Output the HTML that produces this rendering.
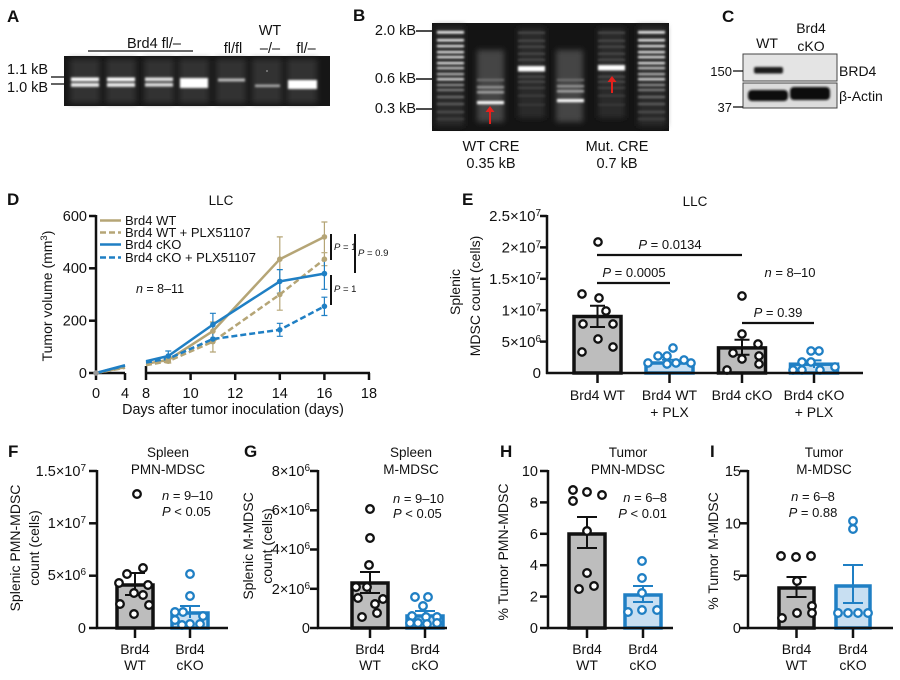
<!DOCTYPE html>
<html><head><meta charset="utf-8"><style>
html,body{margin:0;padding:0;background:#fff;}
svg{display:block;}
text{font-family:"Liberation Sans",Arial,sans-serif;fill:#111;}
</style></head><body>
<svg width="900" height="680" viewBox="0 0 900 680" xmlns="http://www.w3.org/2000/svg">
<defs>
<filter id="b1" x="-50%" y="-50%" width="200%" height="200%"><feGaussianBlur stdDeviation="1.1"/></filter>
<filter id="b2" x="-50%" y="-50%" width="200%" height="200%"><feGaussianBlur stdDeviation="2.8"/></filter>
<filter id="b3" x="-50%" y="-50%" width="200%" height="200%"><feGaussianBlur stdDeviation="1.4"/></filter>
</defs>
<rect width="900" height="680" fill="#fff"/>

<!-- ===== Panel A ===== -->
<text x="7" y="22" font-size="17" font-weight="bold">A</text>
<text x="154" y="48" font-size="14.5" text-anchor="middle">Brd4 fl/–</text>
<line x1="88" y1="51" x2="193" y2="51" stroke="#111" stroke-width="1.3"/>
<text x="233" y="53" font-size="14.5" text-anchor="middle">fl/fl</text>
<text x="270" y="35" font-size="14.5" text-anchor="middle">WT</text>
<text x="270" y="53" font-size="14.5" text-anchor="middle">–/–</text>
<text x="306" y="53" font-size="14.5" text-anchor="middle">fl/–</text>
<text x="7" y="74" font-size="14.5">1.1 kB</text>
<text x="7" y="92" font-size="14.5">1.0 kB</text>
<line x1="51" y1="77" x2="64" y2="77" stroke="#111" stroke-width="1.3"/>
<line x1="51" y1="84" x2="64" y2="84" stroke="#111" stroke-width="1.3"/>
<rect x="64" y="56" width="266" height="50" fill="#161616"/>
<g filter="url(#b2)" fill="#333">
<rect x="70" y="59" width="30" height="44"/><rect x="106" y="59" width="30" height="44"/>
<rect x="144" y="59" width="30" height="44"/><rect x="179" y="59" width="30" height="44"/>
<rect x="216" y="59" width="30" height="44"/><rect x="252" y="59" width="30" height="44"/>
<rect x="287" y="59" width="30" height="44"/>
</g>
<g filter="url(#b1)">
<rect x="71" y="77.5" width="28" height="3.8" fill="#fff"/><rect x="71" y="83" width="28" height="3.8" fill="#eee"/>
<rect x="107" y="77.5" width="28" height="3.8" fill="#fff"/><rect x="107" y="83" width="28" height="3.8" fill="#eee"/>
<rect x="145" y="77.5" width="28" height="3.6" fill="#e6e6e6"/><rect x="145" y="83" width="28" height="3.6" fill="#ddd"/>
<rect x="180" y="78" width="28" height="10" fill="#fff"/>
<rect x="218" y="78.5" width="27" height="3" fill="#bbb"/>
<rect x="255" y="84.5" width="25" height="2.6" fill="#aaa"/>
<rect x="288" y="80" width="29" height="9" fill="#fff"/>
</g>
<circle cx="267" cy="71" r="0.9" fill="#999"/>

<!-- ===== Panel B ===== -->
<text x="353" y="21" font-size="17" font-weight="bold">B</text>
<text x="416" y="35" font-size="14.5" text-anchor="end">2.0 kB</text>
<text x="416" y="83" font-size="14.5" text-anchor="end">0.6 kB</text>
<text x="416" y="113" font-size="14.5" text-anchor="end">0.3 kB</text>
<line x1="416" y1="31" x2="432" y2="31" stroke="#111" stroke-width="1.5"/>
<line x1="416" y1="79" x2="432" y2="79" stroke="#111" stroke-width="1.5"/>
<line x1="416" y1="109" x2="432" y2="109" stroke="#111" stroke-width="1.5"/>
<rect x="432" y="23" width="237" height="108" fill="#141414"/>
<g filter="url(#b2)">
<rect x="436" y="26" width="28" height="100" fill="#2a2a2a"/>
<rect x="638" y="26" width="28" height="100" fill="#2a2a2a"/>
<rect x="477" y="50" width="27" height="72" fill="#444"/>
<rect x="518" y="28" width="27" height="90" fill="#2a2a2a"/>
<rect x="556" y="50" width="27" height="72" fill="#444"/>
<rect x="598" y="28" width="27" height="90" fill="#2a2a2a"/>
</g>
<g filter="url(#b1)">
<g fill="#f0f0f0">
<rect x="437" y="31" width="27" height="2.6"/><rect x="437" y="39" width="27" height="2.4"/>
<rect x="437" y="45" width="27" height="2.2"/><rect x="437" y="51" width="27" height="2.2"/>
<rect x="437" y="56" width="27" height="2.2"/><rect x="437" y="62" width="27" height="2.2"/>
<rect x="437" y="67" width="27" height="2.2" fill="#ccc"/><rect x="437" y="73" width="27" height="2.2" fill="#bbb"/>
<rect x="437" y="78" width="27" height="2.4" fill="#ddd"/><rect x="437" y="84" width="27" height="2" fill="#999"/>
<rect x="437" y="89" width="27" height="2" fill="#888"/><rect x="437" y="96" width="27" height="2" fill="#777"/>
<rect x="437" y="103" width="27" height="2" fill="#666"/><rect x="437" y="111" width="27" height="2" fill="#555"/>
<rect x="437" y="118" width="27" height="2" fill="#444"/>
<rect x="638" y="31" width="27" height="2.6"/><rect x="638" y="39" width="27" height="2.4"/>
<rect x="638" y="45" width="27" height="2.2"/><rect x="638" y="51" width="27" height="2.2"/>
<rect x="638" y="56" width="27" height="2.2"/><rect x="638" y="62" width="27" height="2.2"/>
<rect x="638" y="67" width="27" height="2.2" fill="#ccc"/><rect x="638" y="73" width="27" height="2.2" fill="#bbb"/>
<rect x="638" y="78" width="27" height="2.4" fill="#ddd"/><rect x="638" y="84" width="27" height="2" fill="#999"/>
<rect x="638" y="89" width="27" height="2" fill="#888"/><rect x="638" y="96" width="27" height="2" fill="#777"/>
<rect x="638" y="103" width="27" height="2" fill="#666"/><rect x="638" y="111" width="27" height="2" fill="#555"/>
<rect x="638" y="118" width="27" height="2" fill="#444"/>
</g>
<rect x="477" y="79" width="27" height="2" fill="#777"/>
<rect x="477" y="86" width="27" height="2.4" fill="#999"/>
<rect x="477" y="91" width="27" height="2.4" fill="#aaa"/>
<rect x="477" y="101" width="27" height="3.2" fill="#fff"/>
<rect x="518" y="32" width="27" height="1.6" fill="#555"/><rect x="518" y="40" width="27" height="1.6" fill="#555"/>
<rect x="518" y="46" width="27" height="1.6" fill="#555"/><rect x="518" y="53" width="27" height="1.6" fill="#555"/>
<rect x="518" y="59" width="27" height="1.6" fill="#555"/>
<rect x="518" y="66" width="27" height="5.5" fill="#fff"/>
<rect x="518" y="76" width="27" height="1.6" fill="#555"/><rect x="518" y="81" width="27" height="1.6" fill="#555"/>
<rect x="518" y="87" width="27" height="1.6" fill="#4a4a4a"/><rect x="518" y="95" width="27" height="1.6" fill="#444"/>
<rect x="518" y="104" width="27" height="1.6" fill="#3c3c3c"/>
<rect x="557" y="79" width="27" height="2" fill="#777"/>
<rect x="557" y="85" width="27" height="2.4" fill="#999"/>
<rect x="557" y="90" width="27" height="2.4" fill="#aaa"/>
<rect x="557" y="99" width="27" height="3.2" fill="#fff"/>
<rect x="598" y="32" width="27" height="1.6" fill="#555"/><rect x="598" y="40" width="27" height="1.6" fill="#555"/>
<rect x="598" y="46" width="27" height="1.6" fill="#555"/><rect x="598" y="53" width="27" height="1.6" fill="#555"/>
<rect x="598" y="59" width="27" height="1.6" fill="#555"/>
<rect x="598" y="65" width="27" height="5.5" fill="#fff"/>
<rect x="598" y="76" width="27" height="1.6" fill="#555"/><rect x="598" y="81" width="27" height="1.6" fill="#555"/>
<rect x="598" y="87" width="27" height="1.6" fill="#4a4a4a"/><rect x="598" y="95" width="27" height="1.6" fill="#444"/>
<rect x="598" y="104" width="27" height="1.6" fill="#3c3c3c"/>
</g>
<line x1="490" y1="124" x2="490" y2="111" stroke="#e3211c" stroke-width="2"/>
<polygon points="485.5,112 494.5,112 490,106" fill="#e3211c"/>
<line x1="612" y1="93" x2="612" y2="81" stroke="#e3211c" stroke-width="2"/>
<polygon points="607.5,82 616.5,82 612,76" fill="#e3211c"/>
<text x="491" y="151" font-size="14.5" text-anchor="middle">WT CRE</text>
<text x="491" y="168" font-size="14.5" text-anchor="middle">0.35 kB</text>
<text x="617" y="151" font-size="14.5" text-anchor="middle">Mut. CRE</text>
<text x="617" y="168" font-size="14.5" text-anchor="middle">0.7 kB</text>

<!-- ===== Panel C ===== -->
<text x="722" y="22" font-size="17" font-weight="bold">C</text>
<text x="767" y="48" font-size="14" text-anchor="middle">WT</text>
<text x="811" y="33" font-size="14" text-anchor="middle">Brd4</text>
<text x="811" y="51" font-size="14" text-anchor="middle">cKO</text>
<rect x="743" y="54" width="94" height="27" fill="#e4e4e4" stroke="#444" stroke-width="1"/>
<rect x="743" y="83" width="94" height="25" fill="#dcdcdc" stroke="#444" stroke-width="1"/>
<g filter="url(#b1)">
<rect x="754" y="67" width="29" height="6.5" rx="2" fill="#1a1a1a"/>
<rect x="748" y="90" width="40" height="11" rx="4" fill="#0d0d0d"/>
<rect x="790" y="87" width="40" height="13" rx="4" fill="#0d0d0d"/>
</g>
<text x="839" y="76" font-size="14">BRD4</text>
<text x="839" y="101" font-size="14">β-Actin</text>
<text x="732" y="76" font-size="13" text-anchor="end">150</text>
<text x="732" y="112" font-size="13" text-anchor="end">37</text>
<line x1="733" y1="71" x2="743" y2="71" stroke="#111" stroke-width="1.3"/>
<line x1="733" y1="107" x2="743" y2="107" stroke="#111" stroke-width="1.3"/>

<!-- ===== Panel D ===== -->
<text x="7" y="205" font-size="17" font-weight="bold">D</text>
<text x="221" y="205" font-size="13.5" text-anchor="middle">LLC</text>
<g stroke="#111" stroke-width="2.5" fill="none">
<line x1="96" y1="215" x2="96" y2="374"/>
<line x1="95" y1="373" x2="125" y2="373"/>
<line x1="146" y1="373" x2="370" y2="373"/>
<line x1="89" y1="216" x2="96" y2="216"/><line x1="89" y1="268.3" x2="96" y2="268.3"/>
<line x1="89" y1="320.7" x2="96" y2="320.7"/><line x1="89" y1="373" x2="96" y2="373"/>
<line x1="96" y1="373" x2="96" y2="380"/><line x1="125" y1="373" x2="125" y2="380"/>
<line x1="146" y1="366" x2="146" y2="380"/><line x1="190.6" y1="373" x2="190.6" y2="380"/>
<line x1="235.2" y1="373" x2="235.2" y2="380"/><line x1="279.8" y1="373" x2="279.8" y2="380"/>
<line x1="324.4" y1="373" x2="324.4" y2="380"/><line x1="369" y1="373" x2="369" y2="380"/>
</g>
<g font-size="14.5" text-anchor="end">
<text x="87" y="221">600</text><text x="87" y="273">400</text>
<text x="87" y="325.5">200</text><text x="87" y="378">0</text>
</g>
<g font-size="14.5" text-anchor="middle">
<text x="96" y="398">0</text><text x="125" y="398">4</text><text x="146" y="398">8</text>
<text x="190.6" y="398">10</text><text x="235.2" y="398">12</text><text x="279.8" y="398">14</text>
<text x="324.4" y="398">16</text><text x="369" y="398">18</text>
</g>
<text x="233" y="414" font-size="14.3" text-anchor="middle">Days after tumor inoculation  (days)</text>
<text transform="translate(52,296) rotate(-90)" font-size="14" text-anchor="middle">Tumor volume (mm<tspan dy="-5" font-size="9.5">3</tspan><tspan dy="5">)</tspan></text>
<line x1="100" y1="220.5" x2="121" y2="220.5" stroke="#b5a576" stroke-width="2.5"/>
<line x1="100" y1="232.5" x2="121" y2="232.5" stroke="#b5a576" stroke-width="2.5" stroke-dasharray="6,3"/>
<line x1="100" y1="244.5" x2="121" y2="244.5" stroke="#1f7fc4" stroke-width="2.5"/>
<line x1="100" y1="257.5" x2="121" y2="257.5" stroke="#1f7fc4" stroke-width="2.5" stroke-dasharray="6,3"/>
<g font-size="13">
<text x="125" y="225">Brd4 WT</text>
<text x="125" y="237">Brd4 WT + PLX51107</text>
<text x="125" y="249">Brd4 cKO</text>
<text x="125" y="262">Brd4 cKO + PLX51107</text>
</g>
<text x="160" y="293" font-size="12.5" text-anchor="middle"><tspan font-style="italic">n</tspan> = 8–11</text>
<g stroke="#b5a576" stroke-width="1.2" fill="none">
<path d="M168.3 357v6 M165.3 357h6 M165.3 363h6"/>
<path d="M212.9 322v18 M209.9 322h6"/>
<path d="M212.9 331v21 M209.9 352h6"/>
<path d="M279.8 236.9v44.5 M276.8 236.9h6 M276.8 281.4h6"/>
<path d="M279.8 278.8v31.4 M276.8 310.2h6"/>
<path d="M324.4 222v30 M321.4 222h6"/>
<path d="M324.4 252.7v13 M321.4 252.7h6 M321.4 265.7h6"/>
</g>
<g stroke="#1f7fc4" stroke-width="1.2" fill="none">
<path d="M168.3 351v10 M165.3 351h6"/>
<path d="M212.9 313.3v22.6 M209.9 313.3h6"/>
<path d="M279.8 269.6v23.6 M276.8 269.6h6 M276.8 293.2h6"/>
<path d="M324.4 257.9v31.4 M321.4 289.3h6"/>
<path d="M279.8 323.3v13 M276.8 323.3h6 M276.8 336.3h6"/>
<path d="M324.4 297.2v18.3 M321.4 297.2h6 M321.4 315.5h6"/>
</g>
<g fill="none" stroke-width="2.5" stroke-linejoin="round">
<polyline points="96,373 125,367.2" stroke="#b5a576"/>
<polyline points="146,363.8 168.3,359.9 212.9,331.1 279.8,259.2 324.4,236.9" stroke="#b5a576"/>
<polyline points="96,373 125,367.8" stroke="#b5a576" stroke-dasharray="6,3"/>
<polyline points="146,365.2 168.3,361.2 212.9,341.6 279.8,294.5 324.4,259.2" stroke="#b5a576" stroke-dasharray="6,3"/>
<polyline points="96,373 125,365.2" stroke="#1f7fc4"/>
<polyline points="146,361.2 168.3,356 212.9,324.6 279.8,281.4 324.4,273.6" stroke="#1f7fc4"/>
<polyline points="96,373 125,365.7" stroke="#1f7fc4" stroke-dasharray="6,3"/>
<polyline points="146,362.5 168.3,358.6 212.9,339 279.8,329.8 324.4,306.3" stroke="#1f7fc4" stroke-dasharray="6,3"/>
</g>
<g fill="#b5a576">
<circle cx="96" cy="373" r="2.8" fill="#999"/>
<circle cx="168.3" cy="359.9" r="2.8"/><circle cx="212.9" cy="331.1" r="2.8"/>
<circle cx="279.8" cy="259.2" r="2.8"/><circle cx="324.4" cy="236.9" r="2.8"/>
<circle cx="168.3" cy="361.2" r="2.8"/><circle cx="212.9" cy="341.6" r="2.8"/>
<circle cx="279.8" cy="294.5" r="2.8"/><circle cx="324.4" cy="259.2" r="2.8"/>
</g>
<g fill="#1f7fc4">
<circle cx="168.3" cy="356" r="2.8"/><circle cx="212.9" cy="324.6" r="2.8"/>
<circle cx="279.8" cy="281.4" r="2.8"/><circle cx="324.4" cy="273.6" r="2.8"/>
<circle cx="212.9" cy="339" r="2.8"/><circle cx="279.8" cy="329.8" r="2.8"/>
<circle cx="324.4" cy="306.3" r="2.8"/>
</g>
<g stroke="#111" stroke-width="2">
<line x1="331" y1="234" x2="331" y2="260"/>
<line x1="355" y1="234" x2="355" y2="273"/>
<line x1="331" y1="275" x2="331" y2="305"/>
</g>
<g font-size="9.5" fill="#333">
<text x="334" y="250"><tspan font-style="italic">P</tspan> = 1</text>
<text x="358" y="256"><tspan font-style="italic">P</tspan> = 0.9</text>
<text x="334" y="292"><tspan font-style="italic">P</tspan> = 1</text>
</g>

<!-- ===== Panel E ===== -->
<text x="462" y="205" font-size="17" font-weight="bold">E</text>
<text x="695" y="206" font-size="13.5" text-anchor="middle">LLC</text>
<g font-size="15" text-anchor="end">
<text x="541" y="221">2.5×10<tspan dy="-5" font-size="10">7</tspan></text>
<text x="541" y="252.5">2×10<tspan dy="-5" font-size="10">7</tspan></text>
<text x="541" y="284">1.5×10<tspan dy="-5" font-size="10">7</tspan></text>
<text x="541" y="315.5">1×10<tspan dy="-5" font-size="10">7</tspan></text>
<text x="541" y="347">5×10<tspan dy="-5" font-size="10">6</tspan></text>
<text x="541" y="378">0</text>
</g>
<text transform="translate(460,292) rotate(-90)" font-size="14" text-anchor="middle">Splenic</text>
<text transform="translate(480,296) rotate(-90)" font-size="14" text-anchor="middle">MDSC count (cells)</text>
<rect x="574" y="316.5" width="47" height="56.5" fill="#bdbdbd" stroke="#111" stroke-width="3.5"/>
<rect x="646" y="363" width="47" height="10" fill="#c8dff2" stroke="#1f7fc4" stroke-width="3.5"/>
<rect x="718.5" y="347.9" width="47" height="25.1" fill="#bdbdbd" stroke="#111" stroke-width="3.5"/>
<rect x="790.5" y="364.2" width="47" height="8.8" fill="#c8dff2" stroke="#1f7fc4" stroke-width="3.5"/>
<g stroke-width="2" fill="none">
<path d="M597.5 305.8V327 M590 305.8h15 M590 327h15" stroke="#111"/>
<path d="M669.5 359.8V366 M662 359.8h15" stroke="#1f7fc4"/>
<path d="M742 339.7V354.8 M734.5 339.7h15 M734.5 354.8h15" stroke="#111"/>
<path d="M814 360.4V368 M806.5 360.4h15" stroke="#1f7fc4"/>
</g>
<g fill="#fff" stroke="#111" stroke-width="2.3">
<circle cx="598" cy="242" r="3.7"/><circle cx="582" cy="294" r="3.7"/><circle cx="599" cy="298" r="3.7"/>
<circle cx="606" cy="311" r="3.7"/><circle cx="583" cy="324" r="3.7"/><circle cx="613" cy="324" r="3.7"/>
<circle cx="598" cy="339" r="3.7"/><circle cx="582" cy="352" r="3.7"/><circle cx="613" cy="347" r="3.7"/>
<circle cx="742" cy="296" r="3.7"/><circle cx="742" cy="334" r="3.7"/><circle cx="758" cy="344" r="3.7"/>
<circle cx="733" cy="353" r="3.7"/><circle cx="759" cy="356" r="3.7"/><circle cx="742" cy="359" r="3.7"/>
<circle cx="727" cy="370" r="3.7"/><circle cx="759" cy="364" r="3.7"/>
</g>
<g fill="#fff" stroke="#1f7fc4" stroke-width="2.3">
<circle cx="673" cy="348" r="3.7"/><circle cx="658" cy="356" r="3.7"/><circle cx="667" cy="356" r="3.7"/>
<circle cx="648" cy="363" r="3.7"/><circle cx="667" cy="364" r="3.7"/><circle cx="676" cy="363" r="3.7"/>
<circle cx="684" cy="360" r="3.7"/><circle cx="691" cy="363" r="3.7"/>
<circle cx="811" cy="351" r="3.7"/><circle cx="819" cy="351" r="3.7"/><circle cx="802" cy="362" r="3.7"/>
<circle cx="811" cy="362" r="3.7"/><circle cx="793" cy="370" r="3.7"/><circle cx="802" cy="370" r="3.7"/>
<circle cx="820" cy="370" r="3.7"/><circle cx="835" cy="367" r="3.7"/>
</g>
<g stroke="#111" stroke-width="2.5" fill="none">
<line x1="547" y1="215" x2="547" y2="374"/>
<line x1="546" y1="373" x2="863" y2="373"/>
<line x1="540" y1="216" x2="547" y2="216"/><line x1="540" y1="247.4" x2="547" y2="247.4"/>
<line x1="540" y1="278.8" x2="547" y2="278.8"/><line x1="540" y1="310.2" x2="547" y2="310.2"/>
<line x1="540" y1="341.6" x2="547" y2="341.6"/>
<line x1="597.5" y1="373" x2="597.5" y2="383"/><line x1="669.5" y1="373" x2="669.5" y2="383"/>
<line x1="742" y1="373" x2="742" y2="383"/><line x1="814" y1="373" x2="814" y2="383"/>
</g>
<g stroke="#111" stroke-width="2.3">
<line x1="597" y1="255" x2="742" y2="255"/>
<line x1="597" y1="283" x2="670" y2="283"/>
<line x1="742" y1="323" x2="814" y2="323"/>
</g>
<g font-size="13" text-anchor="middle">
<text x="670" y="249"><tspan font-style="italic">P</tspan> = 0.0134</text>
<text x="634" y="277"><tspan font-style="italic">P</tspan> = 0.0005</text>
<text x="778" y="317"><tspan font-style="italic">P</tspan> = 0.39</text>
<text x="790" y="277"><tspan font-style="italic">n</tspan> = 8–10</text>
</g>
<g font-size="14" text-anchor="middle">
<text x="597.5" y="400">Brd4 WT</text>
<text x="669.5" y="400">Brd4 WT</text><text x="669.5" y="417">+ PLX</text>
<text x="742" y="400">Brd4 cKO</text>
<text x="814" y="400">Brd4 cKO</text><text x="814" y="417">+ PLX</text>
</g>

<!-- ===== Row 3 headers ===== -->
<g font-size="17" font-weight="bold">
<text x="8" y="457">F</text><text x="244" y="457">G</text>
<text x="500" y="457">H</text><text x="710" y="457">I</text>
</g>
<g font-size="13.5" text-anchor="middle">
<text x="168" y="457">Spleen</text><text x="168" y="474">PMN-MDSC</text>
<text x="411" y="457">Spleen</text><text x="411" y="474">M-MDSC</text>
<text x="628" y="457">Tumor</text><text x="628" y="474">PMN-MDSC</text>
<text x="824" y="457">Tumor</text><text x="824" y="474">M-MDSC</text>
</g>

<!-- ===== Panel F ===== -->
<g font-size="14.5" text-anchor="end">
<text x="86" y="476">1.5×10<tspan dy="-5" font-size="10">7</tspan></text>
<text x="86" y="528">1×10<tspan dy="-5" font-size="10">7</tspan></text>
<text x="86" y="580">5×10<tspan dy="-5" font-size="10">6</tspan></text>
<text x="86" y="633">0</text>
</g>
<text transform="translate(20,548) rotate(-90)" font-size="14" text-anchor="middle">Splenic PMN-MDSC</text>
<text transform="translate(39,548) rotate(-90)" font-size="14" text-anchor="middle">count (cells)</text>
<rect x="117" y="585" width="36" height="43" fill="#bdbdbd" stroke="#111" stroke-width="3.5"/>
<rect x="172" y="613" width="36" height="15" fill="#c8dff2" stroke="#1f7fc4" stroke-width="3.5"/>
<path d="M135 573V595 M125 573h20 M125 595h20" stroke="#111" stroke-width="2" fill="none"/>
<path d="M190 606V618 M180 606h20" stroke="#1f7fc4" stroke-width="2" fill="none"/>
<g fill="#fff" stroke="#111" stroke-width="2.3">
<circle cx="137" cy="494" r="3.8"/><circle cx="127" cy="574" r="3.8"/><circle cx="143" cy="568" r="3.8"/>
<circle cx="119" cy="583" r="3.8"/><circle cx="148" cy="585" r="3.8"/><circle cx="134" cy="593" r="3.8"/>
<circle cx="120" cy="604" r="3.8"/><circle cx="149" cy="605" r="3.8"/><circle cx="134" cy="614" r="3.8"/>
<circle cx="143" cy="595" r="3.8"/>
</g>
<g fill="#fff" stroke="#1f7fc4" stroke-width="2.3">
<circle cx="190" cy="574" r="3.8"/><circle cx="190" cy="596" r="3.8"/><circle cx="175" cy="612" r="3.8"/>
<circle cx="183" cy="612" r="3.8"/><circle cx="203" cy="616" r="3.8"/><circle cx="175" cy="620" r="3.8"/>
<circle cx="190" cy="624" r="3.8"/><circle cx="182" cy="625" r="3.8"/><circle cx="200" cy="624" r="3.8"/>
</g>
<g stroke="#111" stroke-width="2.5" fill="none">
<line x1="97" y1="470" x2="97" y2="629"/>
<line x1="96" y1="628" x2="228" y2="628"/>
<line x1="89" y1="471" x2="97" y2="471"/><line x1="89" y1="523.3" x2="97" y2="523.3"/>
<line x1="89" y1="575.7" x2="97" y2="575.7"/><line x1="89" y1="628" x2="97" y2="628"/>
<line x1="135" y1="628" x2="135" y2="638"/><line x1="190" y1="628" x2="190" y2="638"/>
</g>
<g font-size="13">
<text x="162" y="500"><tspan font-style="italic">n</tspan> = 9–10</text>
<text x="162" y="516"><tspan font-style="italic">P</tspan> &lt; 0.05</text>
</g>
<g font-size="14" text-anchor="middle">
<text x="135" y="654">Brd4</text><text x="135" y="670">WT</text>
<text x="190" y="654">Brd4</text><text x="190" y="670">cKO</text>
</g>

<!-- ===== Panel G ===== -->
<g font-size="14.5" text-anchor="end">
<text x="310" y="476">8×10<tspan dy="-5" font-size="10">6</tspan></text>
<text x="310" y="515">6×10<tspan dy="-5" font-size="10">6</tspan></text>
<text x="310" y="554">4×10<tspan dy="-5" font-size="10">6</tspan></text>
<text x="310" y="594">2×10<tspan dy="-5" font-size="10">6</tspan></text>
<text x="310" y="633">0</text>
</g>
<text transform="translate(253,546) rotate(-90)" font-size="14" text-anchor="middle">Splenic M-MDSC</text>
<text transform="translate(272,546) rotate(-90)" font-size="14" text-anchor="middle">count (cells)</text>
<rect x="352" y="583" width="36" height="45" fill="#bdbdbd" stroke="#111" stroke-width="3.5"/>
<rect x="407" y="616" width="36" height="12" fill="#c8dff2" stroke="#1f7fc4" stroke-width="3.5"/>
<path d="M370 572V593 M360 572h20 M360 593h20" stroke="#111" stroke-width="2" fill="none"/>
<path d="M425 611V620 M415 611h20" stroke="#1f7fc4" stroke-width="2" fill="none"/>
<g fill="#fff" stroke="#111" stroke-width="2.3">
<circle cx="370" cy="509" r="3.8"/><circle cx="370" cy="538" r="3.8"/><circle cx="369" cy="565" r="3.8"/>
<circle cx="356" cy="587" r="3.8"/><circle cx="367" cy="587" r="3.8"/><circle cx="358" cy="598" r="3.8"/>
<circle cx="383" cy="599" r="3.8"/><circle cx="375" cy="604" r="3.8"/><circle cx="377" cy="613" r="3.8"/>
<circle cx="362" cy="617" r="3.8"/>
</g>
<g fill="#fff" stroke="#1f7fc4" stroke-width="2.3">
<circle cx="415" cy="597" r="3.8"/><circle cx="428" cy="597" r="3.8"/><circle cx="423" cy="606" r="3.8"/>
<circle cx="412" cy="616" r="3.8"/><circle cx="437" cy="617" r="3.8"/><circle cx="426" cy="617" r="3.8"/>
<circle cx="410" cy="623" r="3.8"/><circle cx="427" cy="624" r="3.8"/><circle cx="437" cy="623" r="3.8"/>
<circle cx="418" cy="623" r="3.8"/>
</g>
<g stroke="#111" stroke-width="2.5" fill="none">
<line x1="318" y1="470" x2="318" y2="629"/>
<line x1="317" y1="628" x2="447" y2="628"/>
<line x1="310" y1="471" x2="318" y2="471"/><line x1="310" y1="510.3" x2="318" y2="510.3"/>
<line x1="310" y1="549.5" x2="318" y2="549.5"/><line x1="310" y1="588.8" x2="318" y2="588.8"/>
<line x1="310" y1="628" x2="318" y2="628"/>
<line x1="370" y1="628" x2="370" y2="638"/><line x1="425" y1="628" x2="425" y2="638"/>
</g>
<g font-size="13">
<text x="393" y="503"><tspan font-style="italic">n</tspan> = 9–10</text>
<text x="393" y="518"><tspan font-style="italic">P</tspan> &lt; 0.05</text>
</g>
<g font-size="14" text-anchor="middle">
<text x="370" y="654">Brd4</text><text x="370" y="670">WT</text>
<text x="425" y="654">Brd4</text><text x="425" y="670">cKO</text>
</g>

<!-- ===== Panel H ===== -->
<g font-size="14.5" text-anchor="end">
<text x="538" y="476">10</text><text x="538" y="507.4">8</text><text x="538" y="538.8">6</text>
<text x="538" y="570.2">4</text><text x="538" y="601.6">2</text><text x="538" y="633">0</text>
</g>
<text transform="translate(508,552) rotate(-90)" font-size="14" text-anchor="middle">% Tumor PMN-MDSC</text>
<rect x="569" y="534" width="36" height="94" fill="#bdbdbd" stroke="#111" stroke-width="3.5"/>
<rect x="625" y="595" width="36" height="33" fill="#c8dff2" stroke="#1f7fc4" stroke-width="3.5"/>
<path d="M587 517V548 M577 517h20 M577 548h20" stroke="#111" stroke-width="2" fill="none"/>
<path d="M643 586V602 M633 586h20 M633 602h20" stroke="#1f7fc4" stroke-width="2" fill="none"/>
<g fill="#fff" stroke="#111" stroke-width="2.3">
<circle cx="573" cy="490" r="3.8"/><circle cx="573" cy="501" r="3.8"/><circle cx="587" cy="492" r="3.8"/>
<circle cx="602" cy="495" r="3.8"/><circle cx="587" cy="531" r="3.8"/><circle cx="587" cy="573" r="3.8"/>
<circle cx="579" cy="589" r="3.8"/><circle cx="594" cy="586" r="3.8"/>
</g>
<g fill="#fff" stroke="#1f7fc4" stroke-width="2.3">
<circle cx="642" cy="561" r="3.8"/><circle cx="642" cy="578" r="3.8"/><circle cx="642" cy="593" r="3.8"/>
<circle cx="628" cy="612" r="3.8"/><circle cx="642" cy="610" r="3.8"/><circle cx="657" cy="610" r="3.8"/>
</g>
<g stroke="#111" stroke-width="2.5" fill="none">
<line x1="548" y1="470" x2="548" y2="629"/>
<line x1="547" y1="628" x2="673" y2="628"/>
<line x1="540" y1="471" x2="548" y2="471"/><line x1="540" y1="502.4" x2="548" y2="502.4"/>
<line x1="540" y1="533.8" x2="548" y2="533.8"/><line x1="540" y1="565.2" x2="548" y2="565.2"/>
<line x1="540" y1="596.6" x2="548" y2="596.6"/><line x1="540" y1="628" x2="548" y2="628"/>
<line x1="587" y1="628" x2="587" y2="638"/><line x1="643" y1="628" x2="643" y2="638"/>
</g>
<g font-size="13" text-anchor="end">
<text x="667" y="502"><tspan font-style="italic">n</tspan> = 6–8</text>
<text x="667" y="518"><tspan font-style="italic">P</tspan> &lt; 0.01</text>
</g>
<g font-size="14" text-anchor="middle">
<text x="587" y="654">Brd4</text><text x="587" y="670">WT</text>
<text x="643" y="654">Brd4</text><text x="643" y="670">cKO</text>
</g>

<!-- ===== Panel I ===== -->
<g font-size="14.5" text-anchor="end">
<text x="741" y="476">15</text><text x="741" y="528.3">10</text>
<text x="741" y="580.7">5</text><text x="741" y="633">0</text>
</g>
<text transform="translate(718,551) rotate(-90)" font-size="14" text-anchor="middle">% Tumor M-MDSC</text>
<rect x="779" y="588" width="35" height="40" fill="#bdbdbd" stroke="#111" stroke-width="3.5"/>
<rect x="836" y="586" width="34" height="42" fill="#c8dff2" stroke="#1f7fc4" stroke-width="3.5"/>
<path d="M796.5 577V597 M786.5 577h20 M786.5 597h20" stroke="#111" stroke-width="2" fill="none"/>
<path d="M853 565V603 M843 565h20 M843 603h20" stroke="#1f7fc4" stroke-width="2" fill="none"/>
<g fill="#fff" stroke="#111" stroke-width="2.3">
<circle cx="781" cy="556" r="3.8"/><circle cx="796" cy="557" r="3.8"/><circle cx="811" cy="556" r="3.8"/>
<circle cx="797" cy="581" r="3.8"/><circle cx="812" cy="606" r="3.8"/><circle cx="797" cy="613" r="3.8"/>
<circle cx="812" cy="613" r="3.8"/><circle cx="782" cy="618" r="3.8"/>
</g>
<g fill="#fff" stroke="#1f7fc4" stroke-width="2.3">
<circle cx="853" cy="521" r="3.8"/><circle cx="853" cy="529" r="3.8"/><circle cx="838" cy="613" r="3.8"/>
<circle cx="848" cy="613" r="3.8"/><circle cx="858" cy="613" r="3.8"/><circle cx="868" cy="613" r="3.8"/>
</g>
<g stroke="#111" stroke-width="2.5" fill="none">
<line x1="748" y1="470" x2="748" y2="629"/>
<line x1="747" y1="628" x2="893" y2="628"/>
<line x1="740" y1="471" x2="748" y2="471"/><line x1="740" y1="523.3" x2="748" y2="523.3"/>
<line x1="740" y1="575.7" x2="748" y2="575.7"/><line x1="740" y1="628" x2="748" y2="628"/>
<line x1="796.5" y1="628" x2="796.5" y2="638"/><line x1="853" y1="628" x2="853" y2="638"/>
</g>
<g font-size="13" text-anchor="middle">
<text x="813" y="501"><tspan font-style="italic">n</tspan> = 6–8</text>
<text x="813" y="517"><tspan font-style="italic">P</tspan> = 0.88</text>
</g>
<g font-size="14" text-anchor="middle">
<text x="796.5" y="654">Brd4</text><text x="796.5" y="670">WT</text>
<text x="853" y="654">Brd4</text><text x="853" y="670">cKO</text>
</g>
</svg>
</body></html>
